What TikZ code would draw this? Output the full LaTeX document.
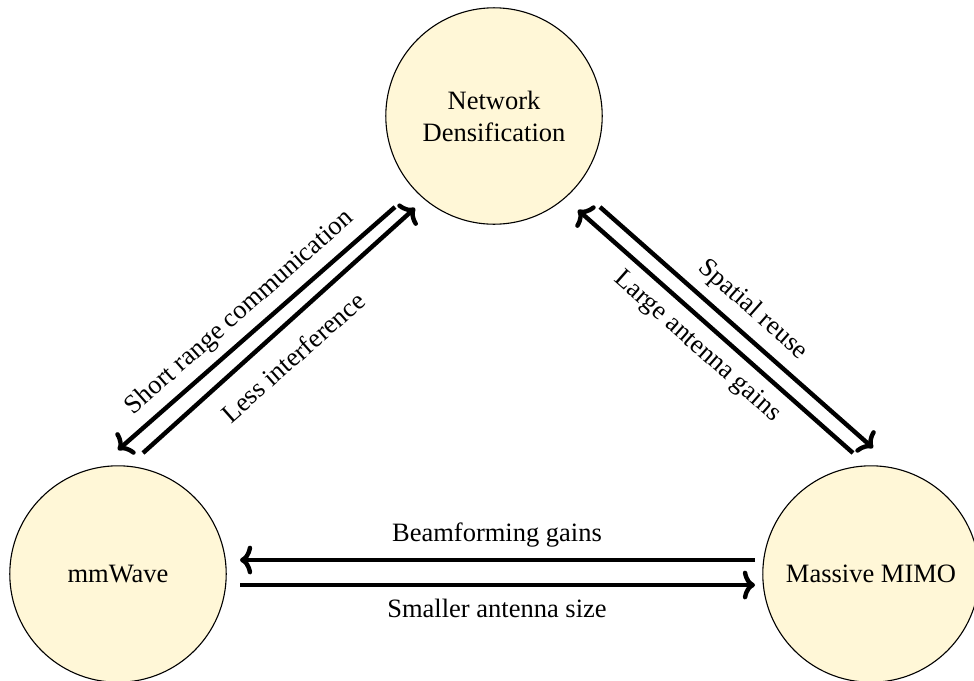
\documentclass[tikz,border=0pt]{standalone}
\usepackage{fontspec}
\setmainfont{Liberation Serif}
\usetikzlibrary{arrows.meta}
\definecolor{techfill}{RGB}{255,247,215}
\begin{document}
\begin{tikzpicture}[x=0.4528pt,y=-0.4528pt,
  tech/.style={circle,draw=black,line width=0.5pt,fill=techfill,
    minimum size=98pt,inner sep=0pt,align=center,font=\fontsize{12}{14.5}\selectfont},
  link/.style={-{To[length=5.5pt,width=13pt]},line width=2pt},
  lbl/.style={font=\fontsize{12}{14.5}\selectfont,inner sep=1pt}]
\useasboundingbox (0,0) rectangle (974,680);

% the three technologies
\node[tech] (nd) at (494,116) {Network\\Densification};
\node[tech] (mm) at (118,574) {mmWave};
\node[tech] (mimo) at (871,574) {Massive MIMO};

% end points of the paired arrows
\coordinate (a1) at (395,207);
\coordinate (a2) at (118,450);
\coordinate (b1) at (143,453);
\coordinate (b2) at (415,208);
\coordinate (c1) at (853,453);
\coordinate (c2) at (578,210);
\coordinate (d1) at (600,207);
\coordinate (d2) at (873,448);
\coordinate (e1) at (755,560);
\coordinate (e2) at (240,560);
\coordinate (f1) at (240,585);
\coordinate (f2) at (755,585);

% mmWave <-> Network Densification
\draw[link] (a1) -- (a2);
\draw[link] (b1) -- (b2);
% Massive MIMO <-> Network Densification
\draw[link] (c1) -- (c2);
\draw[link] (d1) -- (d2);
% Massive MIMO <-> mmWave
\draw[link] (e1) -- (e2);
\draw[link] (f1) -- (f2);

% labels
\node[lbl,rotate=41.5] (l1) at (240,313) {Short range communication};
\node[lbl,rotate=41.5] (l2) at (293,357) {Less interference};
\node[lbl,rotate=-41.5] (l3) at (753,310) {Spatial reuse};
\node[lbl,rotate=-41.5] (l4) at (697,347) {Large antenna gains};
\node[lbl] (l5) at (497,535) {Beamforming gains};
\node[lbl] (l6) at (497,608) {Smaller antenna size};
\end{tikzpicture}
\end{document}
